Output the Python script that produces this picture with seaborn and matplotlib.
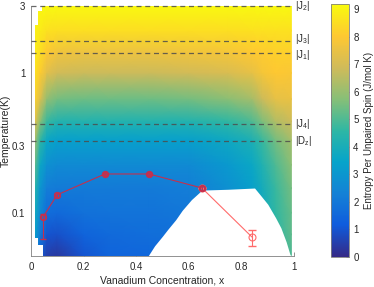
import numpy as np
import matplotlib
matplotlib.use("Agg")
import matplotlib.pyplot as plt
import matplotlib.ticker as mticker
from matplotlib.colors import LinearSegmentedColormap, Normalize
import seaborn as sns

# ── data ────────────────────────────────────────────────────
x_grid = [0.015, 0.035, 0.06, 0.1, 0.2, 0.3, 0.45, 0.6, 0.75, 0.84, 0.88, 0.93, 0.99]
T_grid = [0.049, 0.07, 0.1, 0.15, 0.22, 0.33, 0.45, 0.65, 1.0, 1.4, 2.0, 3.0]
entropy = [
    [3.0, 1.2, 0.5, 0.35, 1.0, 1.4, 1.5, 1.6, 2.5, 3.0, 3.6, 4.4, 5.0],
    [3.3, 2.1, 1.0, 0.9, 1.4, 1.6, 1.7, 1.8, 2.6, 3.1, 3.7, 4.5, 5.2],
    [3.8, 2.6, 1.7, 1.6, 1.8, 1.9, 1.9, 2.0, 2.7, 3.2, 3.8, 4.6, 5.3],
    [4.4, 3.0, 2.2, 2.1, 2.1, 2.1, 2.1, 2.2, 2.8, 3.3, 3.9, 4.7, 5.5],
    [5.2, 3.6, 2.8, 2.6, 2.6, 2.6, 2.6, 2.6, 3.1, 3.6, 4.2, 5.0, 5.8],
    [6.2, 4.6, 3.6, 3.3, 3.3, 3.3, 3.3, 3.3, 3.7, 4.1, 4.7, 5.5, 6.2],
    [7.3, 5.8, 4.7, 4.3, 4.3, 4.3, 4.3, 4.3, 4.6, 5.0, 5.6, 6.4, 6.8],
    [8.2, 7.2, 5.9, 5.5, 5.4, 5.4, 5.4, 5.5, 5.8, 6.2, 6.8, 7.4, 7.5],
    [8.6, 8.1, 7.3, 6.9, 6.8, 6.8, 6.8, 6.9, 7.1, 7.4, 7.8, 8.0, 7.9],
    [8.8, 8.5, 8.0, 7.7, 7.6, 7.6, 7.6, 7.7, 7.8, 8.0, 8.1, 8.2, 8.2],
    [8.9, 8.8, 8.6, 8.5, 8.5, 8.5, 8.5, 8.5, 8.5, 8.6, 8.6, 8.6, 8.6],
    [9.1, 9.1, 9.1, 9.1, 9.1, 9.1, 9.1, 9.1, 9.1, 9.1, 9.1, 9.1, 9.1],
]

# white (no data) regions
dome_x = [0.445, 0.47, 0.50, 0.52, 0.55, 0.575, 0.61, 0.65, 0.75, 0.85, 0.87, 0.90, 0.93, 0.95, 0.97, 0.985, 0.995]
dome_T = [0.049, 0.058, 0.068, 0.076, 0.089, 0.104, 0.124, 0.145, 0.147, 0.15, 0.135, 0.115, 0.092, 0.078, 0.062, 0.05, 0.049]
left_T = [0.045, 0.059, 0.059, 0.066, 0.066, 2.2, 2.2, 2.75, 2.75, 3.0]
left_x = [0.045, 0.045, 0.028, 0.028, 0.015, 0.015, 0.028, 0.028, 0.04, 0.04]

# transition points
ord_x   = [0.046, 0.099, 0.281, 0.449, 0.65]
ord_T   = [0.093, 0.134, 0.189, 0.189, 0.150]
ord_lo  = [0.028, 0.004, 0.004, 0.004, 0.004]
ord_hi  = [0.005, 0.004, 0.004, 0.004, 0.004]
tail_x  = [0.65, 0.84]
tail_T  = [0.150, 0.067]
tail_lo = [0.0, 0.009]
tail_hi = [0.0, 0.0085]

# exchange energy scales
J_T      = [3.0, 1.69, 1.38, 0.43, 0.326]
J_labels = [r"$\mathregular{|J_2|}$", r"$\mathregular{|J_3|}$", r"$\mathregular{|J_1|}$",
            r"$\mathregular{|J_4|}$", r"$\mathregular{|D_z|}$"]
J_nudge  = [0, 1.2, -1.0, 0, 0]   # points, keeps J3/J1 labels apart

cb_ticks = list(range(10))

# ── style ───────────────────────────────────────────────────
sns.set_theme(style="ticks")
plt.rcParams.update({
    "font.family": ["Liberation Sans", "DejaVu Sans"],
    "font.size": 7,
    "axes.edgecolor": "#808080",
    "axes.linewidth": 0.6,
    "xtick.color": "#808080",
    "ytick.color": "#808080",
    "xtick.labelcolor": "#262626",
    "ytick.labelcolor": "#262626",
    "xtick.direction": "in",
    "ytick.direction": "in",
    "axes.labelcolor": "#262626",
})
parula = LinearSegmentedColormap.from_list(
    "parula", ["#352a87", "#0f5cdd", "#1481d6", "#06a4ca", "#2eb7a4",
               "#87bf77", "#d1bb59", "#fec832", "#f9fb0e"])
norm = Normalize(vmin=0, vmax=9.18)

fig = plt.figure(figsize=(3.74, 2.87), dpi=100)
ax = fig.add_axes([31/374, 31/287, 263/374, 250/287])
cax = fig.add_axes([331/374, 30/287, 18/374, 253/287])

ax.set_yscale("log")
ax.pcolormesh(x_grid, T_grid, np.array(entropy), cmap=parula, norm=norm,
              shading="gouraud", zorder=1)
ax.fill_between(dome_x, 0.03, dome_T, color="white", lw=0, zorder=2)
ax.fill_betweenx(left_T, 0, left_x, color="white", lw=0, zorder=2)

for t, lab, dy in zip(J_T, J_labels, J_nudge):
    ax.plot([0, 0.997], [t, t], ls=(0, (4, 3)), color="#4d4d4d", lw=0.9,
            alpha=0.85, zorder=3, clip_on=False)
    ax.annotate(lab, xy=(1.005, t), xycoords=ax.get_yaxis_transform(),
                xytext=(0, dy), textcoords="offset points", va="center",
                ha="left", fontsize=7, color="#262626")

dark, light = "#c4304e", "#ff6b6b"
ax.errorbar(tail_x, tail_T, yerr=[tail_lo, tail_hi], fmt="none", ecolor=light,
            elinewidth=0.8, capsize=3, zorder=4)
sns.lineplot(x=tail_x, y=tail_T, ax=ax, color=light, lw=0.8, marker="o",
             markersize=5, markerfacecolor="none", markeredgecolor=light,
             markeredgewidth=0.8, zorder=4)
ax.errorbar(ord_x, ord_T, yerr=[ord_lo, ord_hi], fmt="none", ecolor=dark,
            elinewidth=0.8, capsize=2.5, zorder=5)
sns.lineplot(x=ord_x, y=ord_T, ax=ax, color=dark, lw=0.8, marker="o",
             markersize=4.5, markerfacecolor="none", markeredgecolor=dark,
             markeredgewidth=0.8, zorder=5)
ax.plot(ord_x, ord_T, ls="none", marker="s", markersize=3, mfc="none",
        mec=dark, mew=0.7, zorder=5)

ax.set_xlim(0, 1)
ax.set_ylim(0.049, 3)
ax.set_xticks([0, 0.2, 0.4, 0.6, 0.8, 1])
ax.xaxis.set_major_formatter(mticker.FuncFormatter(lambda v, _: f"{v:g}"))
ax.yaxis.set_major_locator(mticker.FixedLocator([0.1, 0.3, 1, 3]))
ax.yaxis.set_major_formatter(mticker.FuncFormatter(lambda v, _: f"{v:g}"))
ax.yaxis.set_minor_locator(mticker.FixedLocator(
    [0.05, 0.06, 0.07, 0.08, 0.09, 0.2, 0.4, 0.5, 0.6, 0.7, 0.8, 0.9, 2]))
ax.yaxis.set_minor_formatter(mticker.NullFormatter())
ax.tick_params(which="major", length=3, width=0.6, labelsize=7, pad=4)
ax.tick_params(which="minor", length=1.8, width=0.5)
sns.despine(ax=ax)
ax.set_xlabel("Vanadium Concentration, x", fontsize=7.5, labelpad=3)
ax.set_ylabel("Temperature(K)", fontsize=7.5)
ax.yaxis.set_label_coords(-0.076, 0.5)

cb = fig.colorbar(plt.cm.ScalarMappable(norm=norm, cmap=parula), cax=cax,
                  ticks=cb_ticks)
cb.outline.set_edgecolor("#808080")
cb.outline.set_linewidth(0.6)
cax.tick_params(length=2.5, width=0.6, labelsize=7, direction="in", pad=3)
cb.set_label("Entropy Per Unpaired Spin (J/mol K)", fontsize=7, labelpad=4)

fig.savefig("out.png", dpi=100)
